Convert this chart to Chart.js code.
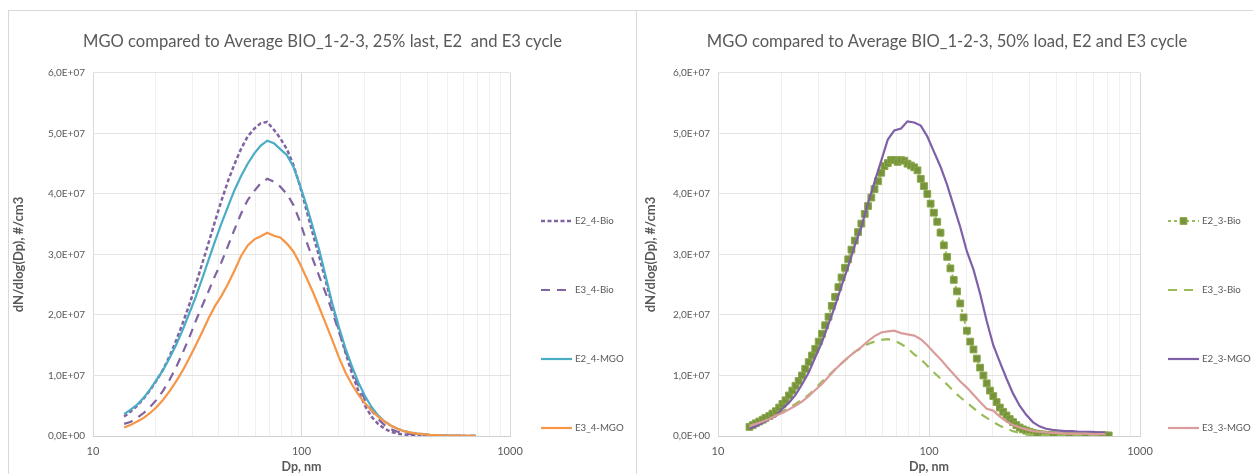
<!DOCTYPE html>
<html>
<head>
<meta charset="utf-8">
<script src="https://cdn.jsdelivr.net/npm/chart.js@4.4.1/dist/chart.umd.min.js"></script>
<style>
  html, body { margin: 0; padding: 0; background: #ffffff; width: 1253px; height: 474px; overflow: hidden; }
  #boxL { position: absolute; left: 8px; top: 10px; width: 627px; height: 464px; border: 1px solid #D9D9D9; border-bottom: none; }
  #boxR { position: absolute; left: 637px; top: 10px; width: 616px; height: 464px; border-top: 1px solid #D9D9D9; }
  #cL { position: absolute; left: 0; top: 0; }
  #cR { position: absolute; left: 4px; top: 0; }
</style>
</head>
<body>
<div id="boxL"><canvas id="cL" width="627" height="463"></canvas></div>
<div id="boxR"><canvas id="cR" width="612" height="463"></canvas></div>
<script>
// ---- DATA (particle diameter Dp in nm; concentrations in units of 1E+07 #/cm3) ----
const UNIT = 1e7;

// 32 channels per decade (every second SMPS channel)
const dpCoarse = [14.1,15.1,16.3,17.5,18.8,20.2,21.7,23.3,25.0,26.9,
  28.9,31.1,33.4,35.9,38.5,41.4,44.5,47.8,51.4,55.2,
  59.4,63.8,68.5,73.7,79.1,85.1,91.4,98.2,105.5,113.4,
  121.9,131.0,140.7,151.2,162.5,174.7,187.7,201.7,216.7,232.9,
  250.3,269.0,289.0,310.6,333.8,358.7,385.4,414.2,445.1,478.3,
  514.0,552.3,593.5,637.8,685.4];

// 64 channels per decade (full SMPS channel list)
const dpFine = [14.1,14.6,15.1,15.7,16.3,16.8,17.5,18.1,18.8,19.5,
  20.2,20.9,21.7,22.5,23.3,24.1,25.0,25.9,26.9,27.9,
  28.9,30.0,31.1,32.2,33.4,34.6,35.9,37.2,38.5,40.0,
  41.4,42.9,44.5,46.1,47.8,49.6,51.4,53.3,55.2,57.3,
  59.4,61.5,63.8,66.1,68.5,71.0,73.7,76.4,79.1,82.0,
  85.1,88.2,91.4,94.7,98.2,101.8,105.5,109.4,113.4,117.6,
  121.9,126.3,131.0,135.8,140.7,145.9,151.2,156.8,162.5,168.5,
  174.7,181.1,187.7,194.6,201.7,209.1,216.7,224.7,232.9,241.4,
  250.3,259.5,269.0,278.8,289.0,299.6,310.6,322.0,333.8,346.0,
  358.7,371.8,385.4,399.5,414.2,429.4,445.1,461.4,478.3,495.8,
  514.0,532.8,552.3,572.5,593.5,615.3,637.8,661.2,685.4,710.5];

// Left chart: 25% load
const E2_4_Bio = [0.32,0.40,0.50,0.62,0.76,0.92,1.10,1.32,1.57,1.86,
  2.16,2.50,2.85,3.20,3.55,3.90,4.22,4.50,4.75,4.95,
  5.08,5.17,5.19,5.06,4.92,4.74,4.48,4.14,3.74,3.34,
  2.95,2.55,2.15,1.75,1.38,1.03,0.74,0.50,0.32,0.20,
  0.12,0.07,0.04,0.025,0.015,0.01,0.007,0.005,0.004,0.003,
  0.002,0.002,0.001,0.001,0.001];
const E3_4_Bio = [0.20,0.23,0.30,0.38,0.48,0.60,0.75,0.93,1.13,1.37,
  1.62,1.90,2.15,2.40,2.65,2.88,3.15,3.42,3.68,3.90,
  4.05,4.18,4.25,4.20,4.12,4.00,3.82,3.55,3.22,2.92,
  2.63,2.35,2.05,1.72,1.40,1.10,0.83,0.60,0.42,0.28,
  0.18,0.11,0.07,0.045,0.03,0.02,0.012,0.008,0.005,0.004,
  0.003,0.002,0.002,0.001,0.001];
const E2_4_MGO = [0.36,0.43,0.52,0.63,0.77,0.93,1.09,1.29,1.50,1.75,
  2.02,2.30,2.60,2.92,3.22,3.52,3.80,4.07,4.30,4.50,
  4.67,4.80,4.88,4.84,4.74,4.64,4.45,4.15,3.82,3.45,
  3.06,2.62,2.18,1.80,1.45,1.15,0.88,0.66,0.48,0.34,
  0.24,0.17,0.12,0.08,0.055,0.04,0.03,0.02,0.015,0.01,
  0.008,0.006,0.004,0.003,0.002];
const E3_4_MGO = [0.14,0.18,0.24,0.30,0.38,0.48,0.60,0.74,0.90,1.08,
  1.28,1.50,1.72,1.95,2.15,2.32,2.52,2.74,2.98,3.15,
  3.25,3.30,3.36,3.31,3.28,3.18,3.05,2.85,2.62,2.38,
  2.12,1.85,1.58,1.30,1.05,0.85,0.68,0.54,0.42,0.32,
  0.24,0.17,0.12,0.08,0.055,0.04,0.03,0.02,0.015,0.01,
  0.008,0.006,0.004,0.003,0.002];

// Right chart: 50% load
const E2_3_Bio = [0.15,0.18,0.21,0.24,0.27,0.30,0.33,0.37,0.41,0.47,
  0.53,0.59,0.67,0.75,0.83,0.91,1.00,1.11,1.22,1.33,
  1.44,1.56,1.69,1.83,1.97,2.15,2.30,2.46,2.62,2.78,
  2.92,3.08,3.23,3.37,3.51,3.67,3.80,3.94,4.08,4.21,
  4.35,4.46,4.51,4.56,4.56,4.53,4.56,4.55,4.50,4.47,
  4.44,4.39,4.25,4.13,4.00,3.84,3.69,3.54,3.36,3.15,
  2.96,2.77,2.58,2.39,2.19,1.96,1.74,1.56,1.43,1.28,
  1.13,1.00,0.87,0.75,0.66,0.56,0.47,0.40,0.34,0.28,
  0.23,0.18,0.14,0.11,0.09,0.07,0.05,0.04,0.03,0.025,
  0.02,0.015,0.012,0.01,0.01,0.01,0.01,0.01,0.01,0.01,
  0.01,0.01,0.01,0.01,0.01,0.01,0.01,0.01,0.01,0.01];
const E3_3_Bio = [0.15,0.18,0.23,0.28,0.34,0.40,0.47,0.53,0.60,0.68,
  0.78,0.90,1.00,1.10,1.20,1.30,1.39,1.45,1.52,1.56,
  1.59,1.60,1.58,1.52,1.45,1.35,1.27,1.16,1.05,0.95,
  0.85,0.74,0.64,0.55,0.46,0.37,0.30,0.23,0.17,0.12,
  0.08,0.05,0.03,0.02,0.015,0.01,0.01,0.01,0.01,0.01,
  0.01,0.01,0.01,0.01,0.01];
const E2_3_MGO = [0.12,0.16,0.22,0.28,0.33,0.45,0.55,0.68,0.85,1.05,
  1.30,1.55,1.85,2.15,2.48,2.80,3.15,3.45,3.85,4.20,
  4.55,4.90,5.05,5.08,5.20,5.18,5.13,4.95,4.70,4.45,
  4.15,3.80,3.45,3.05,2.75,2.35,1.90,1.50,1.22,0.95,
  0.70,0.50,0.35,0.23,0.16,0.12,0.10,0.09,0.08,0.08,
  0.07,0.07,0.07,0.06,0.06];
const E3_3_MGO = [0.17,0.20,0.24,0.28,0.34,0.38,0.44,0.50,0.57,0.66,
  0.76,0.86,0.98,1.10,1.20,1.30,1.39,1.47,1.57,1.65,
  1.71,1.73,1.74,1.70,1.68,1.66,1.60,1.50,1.38,1.27,
  1.14,1.02,0.90,0.80,0.68,0.56,0.45,0.42,0.32,0.24,
  0.18,0.14,0.11,0.08,0.07,0.06,0.05,0.05,0.04,0.04,
  0.04,0.04,0.03,0.03,0.03];

const yTicks = [0, 1, 2, 3, 4, 5, 6];          // in UNIT
const xMajor = [10, 100, 1000];
const titleL = 'MGO compared to Average BIO_1-2-3, 25% last, E2  and E3 cycle';
const titleR = 'MGO compared to Average BIO_1-2-3, 50% load, E2 and E3 cycle';
const yTitle = 'dN/dlog(Dp), #/cm3';
const xTitle = 'Dp, nm';

// ---- helpers ----
const pts = (xs, ys) => xs.map((x, i) => ({ x: x, y: ys[i] * UNIT }));
const FONT = 'Lato, "Liberation Sans", sans-serif';
const TXT = '#595959';

function fmtY(v) {
  const n = v / UNIT;
  if (Math.abs(n) < 1e-9) return '0,0E+00';
  return n.toFixed(1).replace('.', ',') + 'E+07';
}

const sideLegend = {
  id: 'sideLegend',
  afterDraw(chart, args, opts) {
    const ctx = chart.ctx;
    ctx.save();
    chart.data.datasets.forEach((ds, i) => {
      const y = opts.y0 + i * opts.dy;
      ctx.strokeStyle = ds.borderColor;
      ctx.lineWidth = ds.borderWidth;
      ctx.setLineDash(ds.borderDash || []);
      ctx.beginPath();
      ctx.moveTo(opts.x0, y);
      ctx.lineTo(opts.x0 + opts.len, y);
      ctx.stroke();
      ctx.setLineDash([]);
      if (ds.pointRadius > 0) {
        ctx.fillStyle = ds.pointBackgroundColor;
        ctx.strokeStyle = ds.pointBorderColor;
        ctx.lineWidth = ds.pointBorderWidth;
        Chart.helpers.drawPoint(ctx, { pointStyle: ds.pointStyle, rotation: 0, radius: ds.pointRadius, borderWidth: ds.pointBorderWidth }, opts.x0 + opts.len / 2, y);
      }
      ctx.fillStyle = TXT;
      ctx.font = '9.7px ' + FONT;
      ctx.textBaseline = 'middle';
      ctx.textAlign = 'left';
      ctx.fillText(ds.label, opts.x0 + opts.len + 3, y);
    });
    ctx.restore();
  }
};

function makeOptions(title, yWidth, rightWidth, legendX0) {
  return {
    responsive: false,
    animation: false,
    events: [],
    layout: { padding: 0 },
    plugins: {
      legend: { display: false },
      tooltip: { enabled: false },
      title: {
        display: true, text: title, color: TXT,
        font: { family: FONT, size: 16.6, weight: 'normal' },
        padding: { top: 21, bottom: 21 }
      },
      sideLegend: { x0: legendX0, len: 31, y0: 210, dy: 69 }
    },
    scales: {
      x: {
        type: 'logarithmic', min: 10, max: 1000,
        afterFit: (s) => { s.height = 38; },
        grid: {
          drawTicks: false,
          color: (c) => (c.tick && xMajor.includes(c.tick.value)) ? '#D9D9D9' : '#F0F0F0',
          lineWidth: 1
        },
        border: { display: true, color: '#D0D0D0' },
        ticks: {
          autoSkip: false, maxRotation: 0, padding: 9, color: TXT,
          font: { family: FONT, size: 11 },
          callback: (v) => xMajor.includes(v) ? String(v) : ''
        },
        title: { display: true, text: xTitle, color: TXT, font: { family: FONT, size: 12.5, weight: 'bold' }, padding: { top: 0, bottom: 0 } }
      },
      y: {
        min: 0, max: 6 * UNIT,
        afterFit: (s) => { s.width = yWidth; },
        afterBuildTicks: (s) => { s.ticks = yTicks.map(v => ({ value: v * UNIT })); },
        grid: { drawTicks: false, color: '#E3E3E3' },
        border: { display: false },
        ticks: { padding: 8, color: TXT, font: { family: FONT, size: 10 }, callback: (v) => fmtY(v) },
        title: { display: true, text: yTitle, color: TXT, font: { family: FONT, size: 13, weight: 'bold' }, padding: { top: 2, bottom: 2 } }
      },
      yLegendSpace: {
        type: 'linear', position: 'right', display: true,
        afterFit: (s) => { s.width = rightWidth; },
        grid: { display: false, drawTicks: false },
        border: { display: false },
        ticks: { display: false }
      }
    }
  };
}

const lineBase = { pointRadius: 0, tension: 0, fill: false };

new Chart(document.getElementById('cL'), {
  type: 'line',
  data: {
    datasets: [
      Object.assign({ label: 'E2_4-Bio', data: pts(dpCoarse, E2_4_Bio), borderColor: '#8064A2', borderWidth: 2.5, borderDash: [4, 2.5], order: 4 }, lineBase),
      Object.assign({ label: 'E3_4-Bio', data: pts(dpCoarse, E3_4_Bio), borderColor: '#8064A2', borderWidth: 2.2, borderDash: [9, 7], order: 3 }, lineBase),
      Object.assign({ label: 'E2_4-MGO', data: pts(dpCoarse, E2_4_MGO), borderColor: '#4BACC6', borderWidth: 2.2, order: 2 }, lineBase),
      Object.assign({ label: 'E3_4-MGO', data: pts(dpCoarse, E3_4_MGO), borderColor: '#F79646', borderWidth: 2.2, order: 1 }, lineBase)
    ]
  },
  options: makeOptions(titleL, 84, 126, 532),
  plugins: [sideLegend]
});

new Chart(document.getElementById('cR'), {
  type: 'line',
  data: {
    datasets: [
      { label: 'E2_3-Bio', data: pts(dpFine, E2_3_Bio), borderColor: '#9BBB59', borderWidth: 2, borderDash: [3, 3],
        pointStyle: 'rect', pointRadius: 4.8, pointBackgroundColor: '#77933C', pointBorderColor: '#8AA84A', pointBorderWidth: 1,
        tension: 0, fill: false, order: 4 },
      Object.assign({ label: 'E3_3-Bio', data: pts(dpCoarse, E3_3_Bio), borderColor: '#9BBB59', borderWidth: 2.2, borderDash: [9, 7], order: 3 }, lineBase),
      Object.assign({ label: 'E2_3-MGO', data: pts(dpCoarse, E2_3_MGO), borderColor: '#7F60A8', borderWidth: 2.2, order: 2 }, lineBase),
      Object.assign({ label: 'E3_3-MGO', data: pts(dpCoarse, E3_3_MGO), borderColor: '#DA9C9B', borderWidth: 2.2, order: 1 }, lineBase)
    ]
  },
  options: makeOptions(titleR, 77, 113, 527),
  plugins: [sideLegend]
});
</script>
</body>
</html>
